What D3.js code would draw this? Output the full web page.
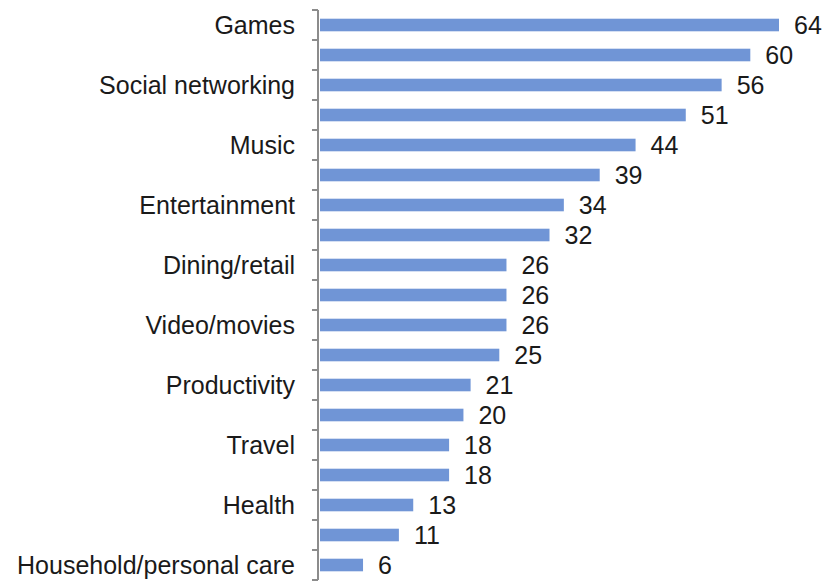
<!DOCTYPE html>
<html>
<head>
<meta charset="utf-8">
<script src="https://cdn.jsdelivr.net/npm/d3@7"></script>
<style>
  html, body { margin: 0; padding: 0; background: #fff; }
  svg { display: block; }
  text { font-family: "Liberation Sans", Arial, sans-serif; fill: #1a1a1a; }
</style>
</head>
<body>
<svg id="chart" width="826" height="582"></svg>
<script>
// App categories, top to bottom; only every other label is printed on the axis
const categories = [
  "Games", "", "Social networking", "", "Music", "", "Entertainment", "",
  "Dining/retail", "", "Video/movies", "", "Productivity", "", "Travel", "",
  "Health", "", "Household/personal care"
];
const values = [64, 60, 56, 51, 44, 39, 34, 32, 26, 26, 26, 25, 21, 20, 18, 18, 13, 11, 6];

const svg = d3.select("#chart");
const axisX = 318;
const barX0 = 320;
const plotTop = 10, rowH = 30;

const idx = d3.range(values.length);
const y = d3.scaleBand()
  .domain(idx)
  .range([plotTop, plotTop + rowH * values.length])
  .paddingInner(0.58)
  .paddingOuter(0.29);

const x = d3.scaleLinear().domain([0, 64]).range([barX0, 779]);

// Bars
svg.append("g").selectAll("rect")
  .data(idx)
  .join("rect")
  .attr("x", x(0))
  .attr("y", i => y(i))
  .attr("width", i => x(values[i]) - x(0))
  .attr("height", y.bandwidth())
  .attr("fill", "#7095d6");

// Value labels
svg.append("g").selectAll("text")
  .data(idx)
  .join("text")
  .attr("x", i => x(values[i]) + 15)
  .attr("y", i => y(i) + y.bandwidth() / 2)
  .attr("dy", "0.36em")
  .attr("font-size", 25)
  .text(i => values[i]);

// Category axis line and tick marks at row boundaries
const axis = svg.append("g").attr("stroke", "#8c8c8c").attr("stroke-width", 2);
axis.append("line")
  .attr("x1", axisX).attr("x2", axisX)
  .attr("y1", plotTop).attr("y2", plotTop + rowH * values.length);
axis.selectAll("line.tick")
  .data(d3.range(values.length + 1))
  .join("line")
  .attr("class", "tick")
  .attr("x1", axisX - 6).attr("x2", axisX)
  .attr("y1", k => plotTop + k * rowH)
  .attr("y2", k => plotTop + k * rowH);

// Category labels
svg.append("g").selectAll("text")
  .data(idx.filter(i => categories[i] !== ""))
  .join("text")
  .attr("x", 295)
  .attr("y", i => y(i) + y.bandwidth() / 2)
  .attr("dy", "0.36em")
  .attr("text-anchor", "end")
  .attr("font-size", 25)
  .text(i => categories[i]);
</script>
</body>
</html>
